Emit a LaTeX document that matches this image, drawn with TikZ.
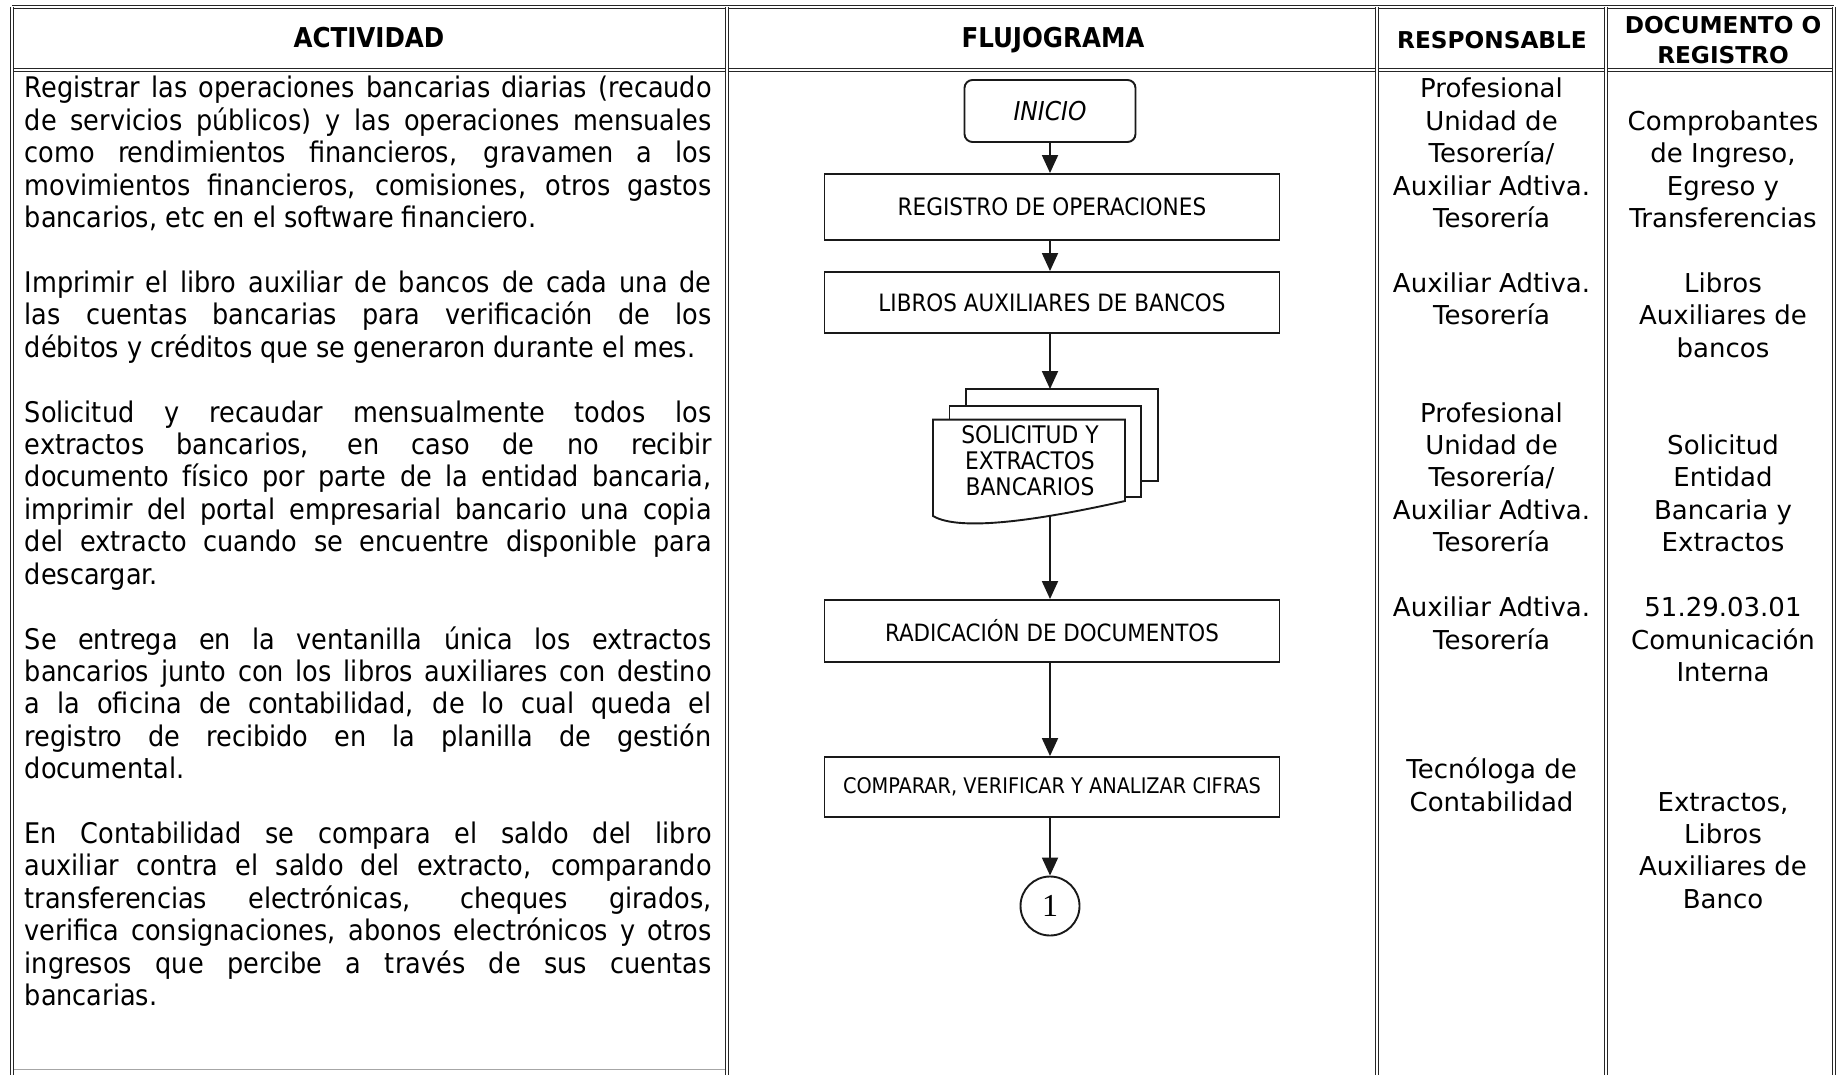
\documentclass[tikz,border=0pt]{standalone}
\usepackage{fontspec}
\setmainfont{DejaVu Sans}
\newfontfamily\tah{DejaVu Sans Condensed}
\newfontfamily\verd{DejaVu Sans}
\newfontfamily\tms{Liberation Serif}
\usetikzlibrary{arrows.meta}
\newcommand{\justline}[1]{\makebox[\linewidth][s]{#1}\\}
\newcommand{\lastline}[1]{\makebox[\linewidth][l]{#1}}
\newcommand{\actfont}{\tah\fontsize{28.4}{32.41}\selectfont}
\newcommand{\colfont}{\centering\verd\fontsize{26}{32.41}\selectfont}
\newcommand{\fsz}[1]{\fontsize{#1}{26}\selectfont}
\begin{document}
\begin{tikzpicture}[x=1pt,y=-1pt,
  tline/.style={draw=black!85, line width=1.4pt, double=white, double distance=1.2pt},
  fbox/.style={draw=black!90, line width=1.9pt, minimum width=455pt, minimum height=62pt, inner sep=0pt,
     font=\tah\fontsize{23.6}{26}\selectfont},
  arr/.style={draw=black!90, line width=1.9pt, -{Triangle[length=18pt,width=16pt]}},
  hdrT/.style={anchor=base, inner sep=0pt, font=\tah\bfseries\fontsize{27.3}{30}\selectfont},
  hdrV/.style={anchor=base, inner sep=0pt, font=\verd\bfseries\fontsize{23.2}{29.4}\selectfont},
  para/.style={anchor=base west, inner sep=0pt},
  cell/.style={anchor=base, inner sep=0pt},
  shp/.style={draw=black!90, line width=1.9pt, fill=white}
]
\useasboundingbox (0,0) rectangle (1838,1075);
\fill[white] (0,0) rectangle (1838,1075);

% ---------- table ----------
\draw[tline] (12,7) -- (1834,7);
\draw[tline] (12,70) -- (1834,70);
\draw[tline] (12,7) -- (12,1075);
\draw[tline] (727,7) -- (727,1075);
\draw[tline] (1377,7) -- (1377,1075);
\draw[tline] (1606,7) -- (1606,1075);
\draw[tline] (1834,7) -- (1834,1075);
\draw[black!35, line width=0.8pt] (14,1069) -- (725,1069);

% ---------- headers ----------
\node[hdrT] (hA) at (369,48) {ACTIVIDAD};
\node[hdrT] (hF) at (1053,48) {FLUJOGRAMA};
\node[hdrV] (hR) at (1492,49) {RESPONSABLE};
\node[hdrV] (hD) at (1723,34) {\parbox[t]{220pt}{\centering DOCUMENTO O\\REGISTRO}};

% ---------- activity text ----------
\node[para] (p1) at (24.6,98) {\parbox[t]{687pt}{\actfont
\justline{Registrar las operaciones bancarias diarias (recaudo}
\justline{de servicios públicos) y las operaciones mensuales}
\justline{como rendimientos financieros, gravamen a los}
\justline{movimientos financieros, comisiones, otros gastos}
\lastline{bancarios, etc en el software financiero.}}};
\node[para] (p2) at (24.6,292.5) {\parbox[t]{687pt}{\actfont
\justline{Imprimir el libro auxiliar de bancos de cada una de}
\justline{las cuentas bancarias para verificación de los}
\lastline{débitos y créditos que se generaron durante el mes.}}};
\node[para] (p3) at (24.6,422.1) {\parbox[t]{687pt}{\actfont
\justline{Solicitud y recaudar mensualmente todos los}
\justline{extractos bancarios, en caso de no recibir}
\justline{documento físico por parte de la entidad bancaria,}
\justline{imprimir del portal empresarial bancario una copia}
\justline{del extracto cuando se encuentre disponible para}
\lastline{descargar.}}};
\node[para] (p4) at (24.6,649.0) {\parbox[t]{687pt}{\actfont
\justline{Se entrega en la ventanilla única los extractos}
\justline{bancarios junto con los libros auxiliares con destino}
\justline{a la oficina de contabilidad, de lo cual queda el}
\justline{registro de recibido en la planilla de gestión}
\lastline{documental.}}};
\node[para] (p5) at (24.6,843.4) {\parbox[t]{687pt}{\actfont
\justline{En Contabilidad se compara el saldo del libro}
\justline{auxiliar contra el saldo del extracto, comparando}
\justline{transferencias electrónicas, cheques girados,}
\justline{verifica consignaciones, abonos electrónicos y otros}
\justline{ingresos que percibe a través de sus cuentas}
\lastline{bancarias.}}};

% ---------- responsable ----------
\node[cell] (r1) at (1491.5,98) {\parbox[t]{222pt}{\colfont Profesional\\Unidad de\\Tesorería/\\Auxiliar Adtiva.\\Tesorería}};
\node[cell] (r2) at (1491.5,292.5) {\parbox[t]{222pt}{\colfont Auxiliar Adtiva.\\Tesorería}};
\node[cell] (r3) at (1491.5,422.1) {\parbox[t]{222pt}{\colfont Profesional\\Unidad de\\Tesorería/\\Auxiliar Adtiva.\\Tesorería}};
\node[cell] (r4) at (1491.5,616.6) {\parbox[t]{222pt}{\colfont Auxiliar Adtiva.\\Tesorería}};
\node[cell] (r5) at (1491.5,778.6) {\parbox[t]{222pt}{\colfont Tecnóloga de\\Contabilidad}};

% ---------- documento ----------
\node[cell] (d1) at (1723,130.4) {\parbox[t]{222pt}{\colfont Comprobantes\\de Ingreso,\\Egreso y\\Transferencias}};
\node[cell] (d2) at (1723,292.5) {\parbox[t]{222pt}{\colfont Libros\\Auxiliares de\\bancos}};
\node[cell] (d3) at (1723,454.5) {\parbox[t]{222pt}{\colfont Solicitud\\Entidad\\Bancaria y\\Extractos}};
\node[cell] (d4) at (1723,616.6) {\parbox[t]{222pt}{\colfont 51.29.03.01\\Comunicación\\Interna}};
\node[cell] (d5) at (1723,811.0) {\parbox[t]{222pt}{\colfont Extractos,\\Libros\\Auxiliares de\\Banco}};

% ---------- flowchart ----------
\node[draw=black!90, line width=1.9pt, rounded corners=8pt, minimum width=171pt, minimum height=62pt,
      inner sep=0pt, font=\tah\itshape\fontsize{26}{28}\selectfont] (ini) at (1050,111) {INICIO};
\node[fbox, minimum height=66pt, font=\tah\fsz{24}] (reg) at (1052,207) {REGISTRO DE OPERACIONES};
\node[fbox, minimum height=61pt, font=\tah\fsz{23.9}] (lib) at (1052,302.5) {LIBROS AUXILIARES DE BANCOS};

% multi-document
\draw[shp] (966,389) rectangle (1158,481);
\draw[shp] (949.5,405.6) rectangle (1140.6,497);
\draw[shp] (933,516) -- (933,419.6) -- (1125,419.6) -- (1125,501)
   .. controls (1040,520) and (960,532) .. (933,516) -- cycle;
\node[inner sep=0pt, align=center, font=\tah\fsz{24.2}] (doc) at (1030,461)
   {SOLICITUD Y\\EXTRACTOS\\BANCARIOS};
\coordinate (docTop) at (1050,389);
\coordinate (docBot) at (1050,515);

\node[fbox, font=\tah\fsz{23.8}] (rad) at (1052,631) {RADICACIÓN DE DOCUMENTOS};
\node[fbox, minimum height=60pt, font=\tah\fsz{21.5}] (cmp) at (1052,787) {COMPARAR, VERIFICAR Y ANALIZAR CIFRAS};
\node[draw=black!90, line width=1.9pt, circle, minimum size=59pt, inner sep=0pt,
      font=\tms\fontsize{32}{34}\selectfont] (c1) at (1050,906) {1};

\draw[arr] (ini.south) -- (ini.south |- reg.north);
\draw[arr] (reg.south -| ini.south) -- (ini.south |- lib.north);
\draw[arr] (lib.south -| ini.south) -- (docTop);
\draw[arr] (docBot) -- (docBot |- rad.north);
\draw[arr] (rad.south -| ini.south) -- (ini.south |- cmp.north);
\draw[arr] (cmp.south -| ini.south) -- (c1.north);
\end{tikzpicture}
\end{document}
